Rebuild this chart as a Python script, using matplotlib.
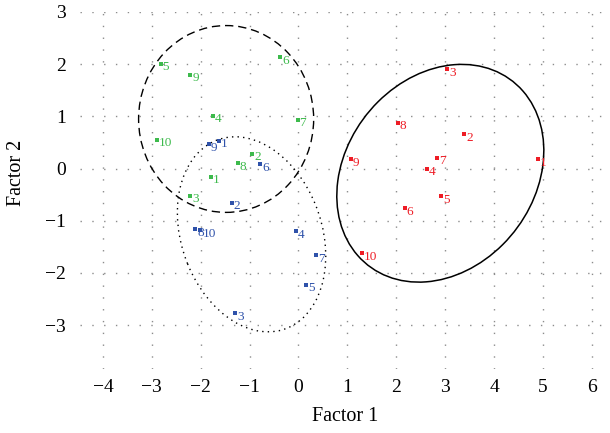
import numpy as np
import matplotlib
matplotlib.use("Agg")
import matplotlib.pyplot as plt
from matplotlib.patches import Ellipse

plt.rcParams['font.family'] = ['Liberation Serif', 'DejaVu Serif']

# point labels 1..10 for each group
etiquetas = [str(i) for i in range(1, 11)]

# group A (green)
verde_x = [-1.79, -0.95, -2.21, -1.75, -2.82, -0.38, -0.02, -1.24, -2.21, -2.89]
verde_y = [-0.16, 0.28, -0.52, 1.01, 2.01, 2.13, 0.93, 0.10, 1.80, 0.55]

# group B (blue)
azul_x = [-1.63, -1.37, -1.30, -0.06, 0.15, -0.79, 0.36, -2.11, -1.83, -2.01]
azul_y = [0.53, -0.66, -2.77, -1.20, -2.23, 0.08, -1.66, -1.16, 0.47, -1.18]

# group C (red)
vermelho_x = [4.90, 3.39, 3.04, 2.63, 2.91, 2.17, 2.83, 2.03, 1.07, 1.30]
vermelho_y = [0.18, 0.66, 1.90, 0.00, -0.53, -0.76, 0.21, 0.88, 0.18, -1.62]

# ellipses: center x, center y, width, height, angle
elipse_verde = (-1.48, 0.95, 3.58, 3.58, 0)
elipse_azul = (-0.96, -1.26, 3.88, 2.85, -66.7)
elipse_vermelha = (2.90, -0.09, 4.62, 3.74, 43)

cor_verde = '#3dba4c'
cor_azul = '#2f52aa'
cor_vermelha = '#ee1c25'

fig = plt.figure(figsize=(6.10, 4.33), dpi=100)
ax = fig.add_axes([0.131, 0.1467, 0.869, 0.8256])

for xs, ys, cor in [(verde_x, verde_y, cor_verde),
                    (azul_x, azul_y, cor_azul),
                    (vermelho_x, vermelho_y, cor_vermelha)]:
    ax.plot(xs, ys, linestyle='none', marker='s', markersize=2.8,
            color=cor, markeredgewidth=0, zorder=3)
    for x, y, t in zip(xs, ys, etiquetas):
        ax.annotate(t, (x, y), xytext=(1.5, -2.5), textcoords='offset points',
                    ha='left', va='center', fontsize=9.5, color=cor, zorder=4)

ax.add_patch(Ellipse(elipse_verde[:2], elipse_verde[2], elipse_verde[3],
                     angle=elipse_verde[4], fill=False, color='black',
                     linewidth=1.0, linestyle=(0, (6, 3.5)), zorder=2))
ax.add_patch(Ellipse(elipse_azul[:2], elipse_azul[2], elipse_azul[3],
                     angle=elipse_azul[4], fill=False, color='black',
                     linewidth=1.0, linestyle=(0, (1, 3)), zorder=2))
ax.add_patch(Ellipse(elipse_vermelha[:2], elipse_vermelha[2], elipse_vermelha[3],
                     angle=elipse_vermelha[4], fill=False, color='black',
                     linewidth=1.1, zorder=2))

ax.set_xlim(-4.47, 6.37)
ax.set_ylim(-3.85, 3.0)
ax.set_xticks(range(-4, 7))
ax.set_yticks(range(-3, 4))
ax.set_xticklabels([str(v).replace('-', '\u2212') for v in range(-4, 7)])
ax.set_yticklabels([str(v).replace('-', '\u2212') for v in range(-3, 4)])
ax.tick_params(length=0, labelsize=14, pad=7)
ax.tick_params(axis='y', pad=10)

ax.grid(True, color='#8c8c8c', linewidth=1.0, linestyle=(0, (1, 7.5)))
ax.set_axisbelow(True)
for s in ax.spines.values():
    s.set_visible(False)

ax.set_xlabel('Factor 1', fontsize=14.5)
ax.set_ylabel('Factor 2', fontsize=14.5)
ax.xaxis.set_label_coords(0.5, -0.105)
ax.yaxis.set_label_coords(-0.102, 0.55)

plt.savefig('out.png', dpi=100)
